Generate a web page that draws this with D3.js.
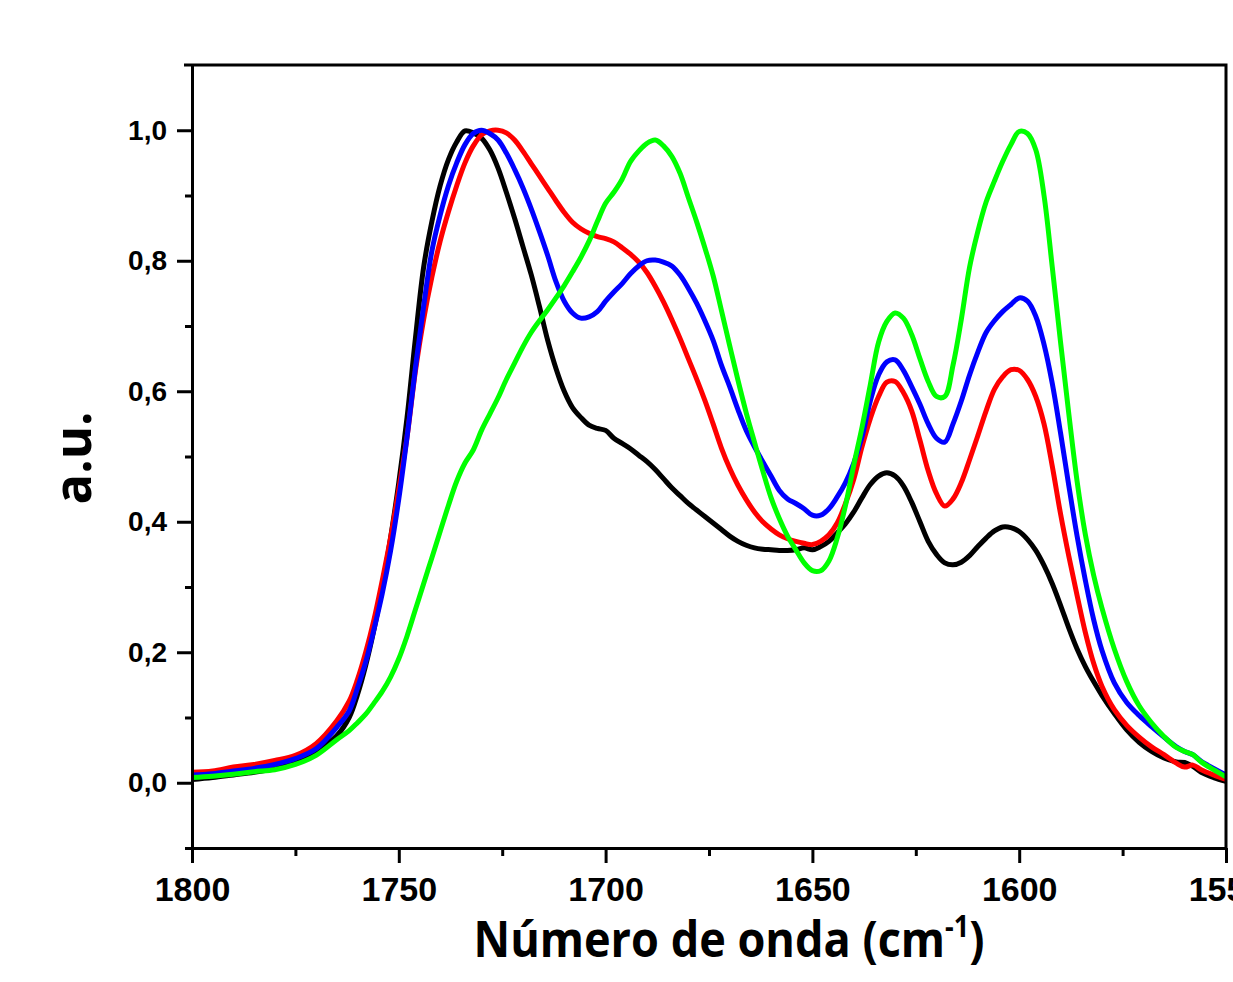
<!DOCTYPE html>
<html>
<head>
<meta charset="utf-8">
<script src="https://cdn.jsdelivr.net/npm/d3@7"></script>
<style>
  body { margin: 0; background: #fff; overflow: hidden; }
  svg { display: block; }
</style>
</head>
<body>
<div id="chart"></div>
<script>
// wavenumber grid (cm-1), shared by all spectra
var wavenumber = [1800,1795,1790,1785,1780,1775,1770,1765,
  1762,1760,1758,1756,1754,1752,1750,1748,1746,1744,1742,1740,1738,1736,1734,1732,1730,1728,1726,1724,1722,1720,
  1718,1716,1714,1712,1710,1708,1706,1704,1702,1700,1698,1696,1694,1692,1690,1688,1686,1684,1682,1680,
  1678,1676,1674,1672,1670,1668,1666,1664,1662,1660,1658,1656,1654,1652,1650,1648,1646,1644,1642,1640,
  1638,1636,1634,1632,1630,1628,1626,1624,1622,1620,1618,1616,1614,1612,1610,1608,1606,1604,1602,1600,
  1598,1596,1594,1592,1590,1588,1586,1584,1582,1580,1577,1574,1571,1568,1565,1562,1560,1558,1556,1553,1550];

var blackSpec = [0.005,0.008,0.012,0.016,0.022,0.032,0.048,0.072,
  0.10,0.135,0.18,0.235,0.30,0.375,0.46,0.56,0.68,0.79,0.86,0.915,0.955,0.982,0.999,0.996,0.988,0.97,0.942,0.905,0.865,0.822,
  0.779,0.73,0.678,0.635,0.60,0.575,0.56,0.548,0.543,0.54,0.528,0.52,0.512,0.502,0.492,0.48,0.466,0.452,0.44,0.428,
  0.418,0.408,0.398,0.388,0.378,0.37,0.364,0.36,0.358,0.357,0.356,0.356,0.357,0.36,0.357,0.362,0.37,0.383,0.397,0.415,
  0.437,0.457,0.47,0.475,0.47,0.455,0.43,0.40,0.37,0.35,0.337,0.334,0.338,0.348,0.362,0.375,0.386,0.392,0.391,0.385,
  0.373,0.356,0.333,0.305,0.272,0.237,0.205,0.178,0.155,0.134,0.106,0.081,0.062,0.048,0.038,0.032,0.031,0.025,0.016,0.008,0.002];

var redSpec = [0.016,0.018,0.024,0.028,0.034,0.042,0.06,0.095,
  0.125,0.158,0.2,0.25,0.31,0.375,0.45,0.53,0.63,0.71,0.775,0.83,0.875,0.915,0.95,0.976,0.993,0.999,1.0,0.996,0.985,0.968,
  0.949,0.93,0.911,0.892,0.874,0.859,0.849,0.842,0.837,0.834,0.829,0.82,0.81,0.798,0.782,0.761,0.737,0.71,0.681,0.65,
  0.619,0.586,0.55,0.513,0.482,0.456,0.434,0.415,0.4,0.389,0.38,0.374,0.37,0.367,0.365,0.37,0.38,0.398,0.428,0.465,
  0.515,0.558,0.592,0.614,0.615,0.598,0.57,0.525,0.478,0.443,0.424,0.435,0.46,0.495,0.532,0.57,0.603,0.622,0.633,0.632,
  0.618,0.592,0.55,0.485,0.412,0.347,0.287,0.23,0.183,0.148,0.112,0.088,0.07,0.055,0.043,0.03,0.024,0.027,0.02,0.012,0.005];

var blueSpec = [0.012,0.014,0.018,0.022,0.028,0.037,0.052,0.085,
  0.11,0.145,0.185,0.235,0.29,0.355,0.435,0.53,0.635,0.73,0.815,0.87,0.915,0.95,0.978,0.995,1.0,0.995,0.985,0.965,0.94,0.912,
  0.88,0.845,0.808,0.768,0.738,0.72,0.712,0.714,0.722,0.738,0.752,0.765,0.78,0.792,0.8,0.801,0.798,0.792,0.778,0.758,
  0.735,0.708,0.678,0.64,0.607,0.572,0.54,0.515,0.492,0.47,0.448,0.435,0.428,0.42,0.41,0.41,0.42,0.438,0.46,0.49,
  0.53,0.585,0.625,0.645,0.648,0.632,0.607,0.58,0.55,0.528,0.522,0.55,0.585,0.625,0.66,0.69,0.708,0.722,0.733,0.743,
  0.738,0.715,0.672,0.612,0.536,0.455,0.378,0.31,0.25,0.203,0.153,0.123,0.103,0.086,0.07,0.055,0.048,0.043,0.033,0.022,0.012];

var greenSpec = [0.008,0.01,0.013,0.017,0.02,0.028,0.042,0.066,
  0.08,0.092,0.105,0.122,0.14,0.162,0.19,0.225,0.265,0.305,0.345,0.385,0.425,0.462,0.49,0.51,0.54,0.565,0.59,0.618,0.643,0.668,
  0.69,0.708,0.725,0.743,0.762,0.783,0.805,0.83,0.86,0.888,0.905,0.925,0.952,0.968,0.98,0.985,0.976,0.96,0.934,0.897,
  0.86,0.82,0.777,0.724,0.67,0.617,0.567,0.522,0.478,0.437,0.405,0.378,0.357,0.337,0.325,0.325,0.34,0.375,0.425,0.487,
  0.545,0.61,0.675,0.707,0.72,0.712,0.687,0.65,0.615,0.592,0.592,0.64,0.71,0.79,0.845,0.89,0.922,0.952,0.978,0.998,
  0.995,0.97,0.9,0.79,0.675,0.565,0.462,0.38,0.318,0.268,0.205,0.155,0.118,0.092,0.071,0.054,0.048,0.043,0.032,0.02,0.009];

var seriesNames = ["black", "red", "blue", "green"];
var seriesColors = ["#000000", "#ff0000", "#0000ff", "#00ff00"];
var seriesValues = [blackSpec, redSpec, blueSpec, greenSpec];

var xMajor = [1800, 1750, 1700, 1650, 1600, 1550];
var xMinor = [1775, 1725, 1675, 1625, 1575];
var yMajor = [0, 0.2, 0.4, 0.6, 0.8, 1.0];
var yMinor = [-0.1, 0.1, 0.3, 0.5, 0.7, 0.9];

var width = 1233, height = 982;
var plotL = 192, plotR = 1226, plotT = 65, plotB = 848;

var svg = d3.select("#chart").append("svg")
    .attr("width", width)
    .attr("height", height);

var x = d3.scaleLinear().domain([1800, 1550]).range([plotL, plotR]);
var y = d3.scaleLinear().domain([-0.1, 1.1]).range([plotB, plotT]);

// spectra
var line = d3.line()
    .x(function(d) { return x(d[0]); })
    .y(function(d) { return y(d[1]); })
    .curve(d3.curveCatmullRom.alpha(0.5));

seriesValues.forEach(function(vals, i) {
    var pts = wavenumber.map(function(w, j) { return [w, vals[j]]; });
    svg.append("path")
        .datum(pts)
        .attr("class", "spec-" + seriesNames[i])
        .attr("fill", "none")
        .attr("stroke", seriesColors[i])
        .attr("stroke-width", 5)
        .attr("stroke-linejoin", "round")
        .attr("d", line);
});

// frame (top + right)
svg.append("path")
    .attr("d", "M" + (plotL - 8) + "," + plotT + "H" + plotR + "V" + plotB)
    .attr("fill", "none")
    .attr("stroke", "#000")
    .attr("stroke-width", 3);

// y axis
var fmt = function(d) { return d3.format(".1f")(d).replace(".", ","); };
var yAxis = svg.append("g")
    .attr("transform", "translate(" + plotL + ",0)")
    .call(d3.axisLeft(y).tickValues(yMajor).tickSize(15).tickSizeOuter(0).tickPadding(10).tickFormat(fmt));
svg.append("g")
    .attr("transform", "translate(" + plotL + ",0)")
    .call(d3.axisLeft(y).tickValues(yMinor).tickSize(7).tickSizeOuter(0).tickFormat(""))
    .select(".domain").remove();

// x axis
var xAxis = svg.append("g")
    .attr("transform", "translate(0," + plotB + ")")
    .call(d3.axisBottom(x).tickValues(xMajor).tickSize(15).tickSizeOuter(0).tickPadding(14).tickFormat(d3.format("d")));
svg.append("g")
    .attr("transform", "translate(0," + plotB + ")")
    .call(d3.axisBottom(x).tickValues(xMinor).tickSize(8).tickSizeOuter(0).tickFormat(""))
    .select(".domain").remove();

svg.selectAll(".domain").attr("stroke-width", 3);
svg.selectAll(".tick line").attr("stroke-width", 3);

yAxis.selectAll("text")
    .attr("font-family", "'Liberation Sans', Arial, sans-serif")
    .attr("font-weight", "bold")
    .attr("font-size", 28)
    .attr("fill", "#000");

xAxis.selectAll("text")
    .attr("font-family", "'Liberation Sans', Arial, sans-serif")
    .attr("font-weight", "bold")
    .attr("font-size", 34)
    .attr("fill", "#000");

// axis titles
var xt = svg.append("text")
    .attr("x", 729)
    .attr("y", 957)
    .attr("text-anchor", "middle")
    .attr("font-family", "'Open Sans', sans-serif")
    .attr("font-weight", "bold")
    .attr("font-size", 50)
    .attr("textLength", 511)
    .attr("lengthAdjust", "spacingAndGlyphs");
xt.append("tspan").text("Número de onda (cm");
xt.append("tspan").attr("dy", -20).attr("font-size", 30).text("-1");
xt.append("tspan").attr("dy", 20).text(")");

svg.append("text")
    .attr("transform", "translate(91,458) rotate(-90)")
    .attr("text-anchor", "middle")
    .attr("font-family", "'Open Sans', sans-serif")
    .attr("font-weight", "bold")
    .attr("font-size", 52)
    .attr("textLength", 93)
    .attr("lengthAdjust", "spacingAndGlyphs")
    .text("a.u.");
</script>
</body>
</html>
